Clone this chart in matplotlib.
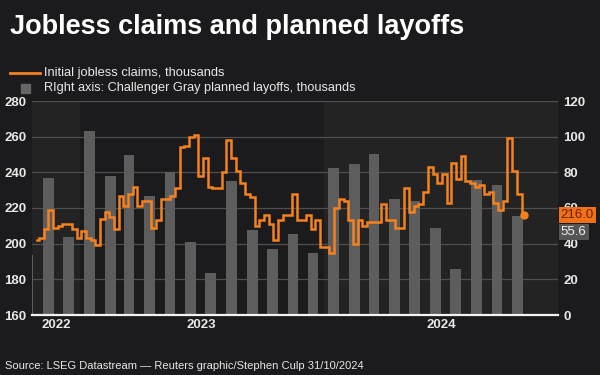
#!/usr/bin/env python3

import matplotlib
import numpy as np
import pandas as pd
from matplotlib import dates as mdates
from matplotlib.lines import Line2D
from matplotlib.patches import Rectangle

matplotlib.use("Agg")
import matplotlib.pyplot as plt


########################################################################
# Data
########################################################################

# weekly initial jobless claims (thousands), weeks ending Saturday
CLAIMS_START = "2022-10-29"
CLAIMS = [
    202, 203, 208, 219, 209, 210, 211, 211, 208, 203,
    207, 203, 202, 199, 214, 218, 215, 208, 227, 221,
    228, 232, 221, 224, 224, 209, 213, 225, 225, 227,
    231, 254, 255, 260, 261, 238, 248, 232, 231, 231,
    240, 258, 248, 241, 234, 228, 226, 210, 213, 216,
    211, 202, 213, 216, 216, 228, 213, 213, 216, 208,
    213, 198, 198, 195, 220, 225, 224, 213, 200, 213,
    210, 212, 212, 212, 222, 213, 213, 209, 209, 231,
    218, 221, 222, 229, 243, 239, 234, 239, 223, 245,
    236, 249, 235, 234, 232, 233, 228, 229, 223, 219,
    224, 259, 241, 228, 216,
]

# monthly Challenger Gray planned layoffs (thousands)
LAYOFF_MONTHS = [
    "2022-10", "2022-11", "2022-12",
    "2023-01", "2023-02", "2023-03", "2023-04", "2023-05", "2023-06",
    "2023-07", "2023-08", "2023-09", "2023-10", "2023-11", "2023-12",
    "2024-01", "2024-02", "2024-03", "2024-04", "2024-05", "2024-06",
    "2024-07", "2024-08", "2024-09", "2024-10",
]
LAYOFFS = [
    33.8, 76.8, 43.7,
    102.9, 77.8, 89.7, 66.9, 80.1, 40.7,
    23.7, 75.2, 47.5, 36.8, 45.5, 34.8,
    82.3, 84.6, 90.3, 64.8, 63.8, 48.8,
    25.9, 75.9, 72.8, 55.6,
]

LEFT_TICKS = [160, 180, 200, 220, 240, 260, 280]
RIGHT_TICKS = [0, 20, 40, 60, 80, 100, 120]
YEARS = [2022, 2023, 2024]

TITLE = "Jobless claims and planned layoffs"
LEGEND_LINE = "Initial jobless claims, thousands"
LEGEND_BAR = "RIght axis: Challenger Gray planned layoffs, thousands"
SOURCE = "Source: LSEG Datastream \u2014 Reuters graphic/Stephen Culp 31/10/2024"


########################################################################
# Style
########################################################################

BG = "#1b1a1c"
BAND = "#232323"
ORANGE = "#f5821f"
BAR = "#5d5d5d"
GRID = "#4f4f4f"
TEXT = "#e8e8e8"
FONTS = ["Liberation Sans", "DejaVu Sans"]

X_LEFT = pd.Timestamp("2022-10-22")
X_RIGHT = pd.Timestamp("2024-12-16")


def main() -> None:
    plt.rcParams["font.family"] = FONTS
    fig = plt.figure(figsize=(6, 3.75), dpi=100, facecolor=BG)
    ax = fig.add_axes([32 / 600, 60 / 375, 526 / 600, 214 / 375])
    ax.set_facecolor(BG)

    xl = mdates.date2num(X_LEFT)
    xr = mdates.date2num(X_RIGHT)
    y23 = mdates.date2num(pd.Timestamp("2023-01-01"))
    y24 = mdates.date2num(pd.Timestamp("2024-01-01"))

    # alternating year bands
    ax.axvspan(xl, y23, color=BAND, linewidth=0, zorder=0)
    ax.axvspan(y24, xr, color=BAND, linewidth=0, zorder=0)

    # bars (right axis)
    months = pd.to_datetime(LAYOFF_MONTHS) + pd.Timedelta(days=15)
    ax.bar(mdates.date2num(months), LAYOFFS, width=16, color=BAR,
           linewidth=0, zorder=2)
    ax.set_ylim(0, 120)
    ax.set_yticks(RIGHT_TICKS)
    ax.grid(True, axis="y", color=GRID, linewidth=0.9, zorder=1)
    ax.set_axisbelow(True)

    # claims line (left axis)
    ax2 = ax.twinx()
    weeks = pd.date_range(CLAIMS_START, periods=len(CLAIMS), freq="7D")
    wx = mdates.date2num(weeks)
    ax2.plot(wx, CLAIMS, color=ORANGE, linewidth=1.8,
             drawstyle="steps-mid", solid_joinstyle="miter", zorder=3)
    ax2.plot(wx[-1], CLAIMS[-1], "o", color=ORANGE, markersize=5, zorder=4)
    ax2.set_ylim(160, 280)
    ax2.set_yticks(LEFT_TICKS)

    # twinx moves the original ticks left, so swap sides afterwards
    ax.yaxis.tick_right()
    ax2.yaxis.tick_left()

    for a in (ax, ax2):
        a.set_xlim(xl, xr)
        for side in ("top", "left", "right", "bottom"):
            a.spines[side].set_visible(False)
        a.tick_params(axis="y", length=0, colors=TEXT, labelsize=9.5, pad=4)
        for lab in a.get_yticklabels():
            lab.set_fontweight("bold")
    ax.axhline(0, color="#f2f2f2", linewidth=1.6, zorder=5, clip_on=False)

    # year labels centred on each visible year
    centers = [(xl + y23) / 2,
               (y23 + y24) / 2,
               (y24 + xr) / 2]
    ax.set_xticks([])
    ax.set_xticks(centers, minor=True)
    ax.set_xticklabels([str(y) for y in YEARS], minor=True)
    ax.tick_params(axis="x", which="minor", length=0, colors=TEXT,
                   labelsize=9.5, pad=3)
    for lab in ax.get_xticklabels(minor=True):
        lab.set_fontweight("bold")
    ax2.set_xticks([])

    # last value boxes
    ax2.annotate(
        f"{CLAIMS[-1]:.1f}", xy=(1.0, CLAIMS[-1]),
        xycoords=("axes fraction", "data"), xytext=(2, 0),
        textcoords="offset points", va="center", ha="left",
        fontsize=9.5, color="#6e1e00",
        bbox=dict(boxstyle="square,pad=0.15", fc="#f0711a", ec="none"),
        zorder=6,
    )
    ax.annotate(
        f"{LAYOFFS[-1]:.1f}", xy=(1.0, LAYOFFS[-1]),
        xycoords=("axes fraction", "data"), xytext=(2, -11.5),
        textcoords="offset points", va="center", ha="left",
        fontsize=9.5, color="#f0f0f0",
        bbox=dict(boxstyle="square,pad=0.15", fc="#555555", ec="none"),
        zorder=6,
    )

    # title, legend, source
    fig.text(10 / 600, 1 - 34 / 375, TITLE, fontweight="bold",
             fontsize=19.5, color="white", va="baseline")
    fig.add_artist(Line2D([10 / 600, 40 / 600], [1 - 73 / 375] * 2,
                          color=ORANGE, linewidth=2,
                          transform=fig.transFigure))
    fig.text(44 / 600, 1 - 73 / 375, LEGEND_LINE, fontsize=9.3,
             color=TEXT, va="center")
    fig.add_artist(Rectangle((21 / 600, 1 - 93 / 375), 9 / 600, 9 / 375,
                             color="#666666", transform=fig.transFigure))
    fig.text(44 / 600, 1 - 88 / 375, LEGEND_BAR, fontsize=9.2,
             color=TEXT, va="center")
    fig.text(5 / 600, 1 - 366 / 375, SOURCE, fontsize=8.0, color=TEXT,
             va="center")

    fig.savefig("out.png", dpi=100, facecolor=BG)
    plt.close(fig)


if __name__ == "__main__":
    main()
